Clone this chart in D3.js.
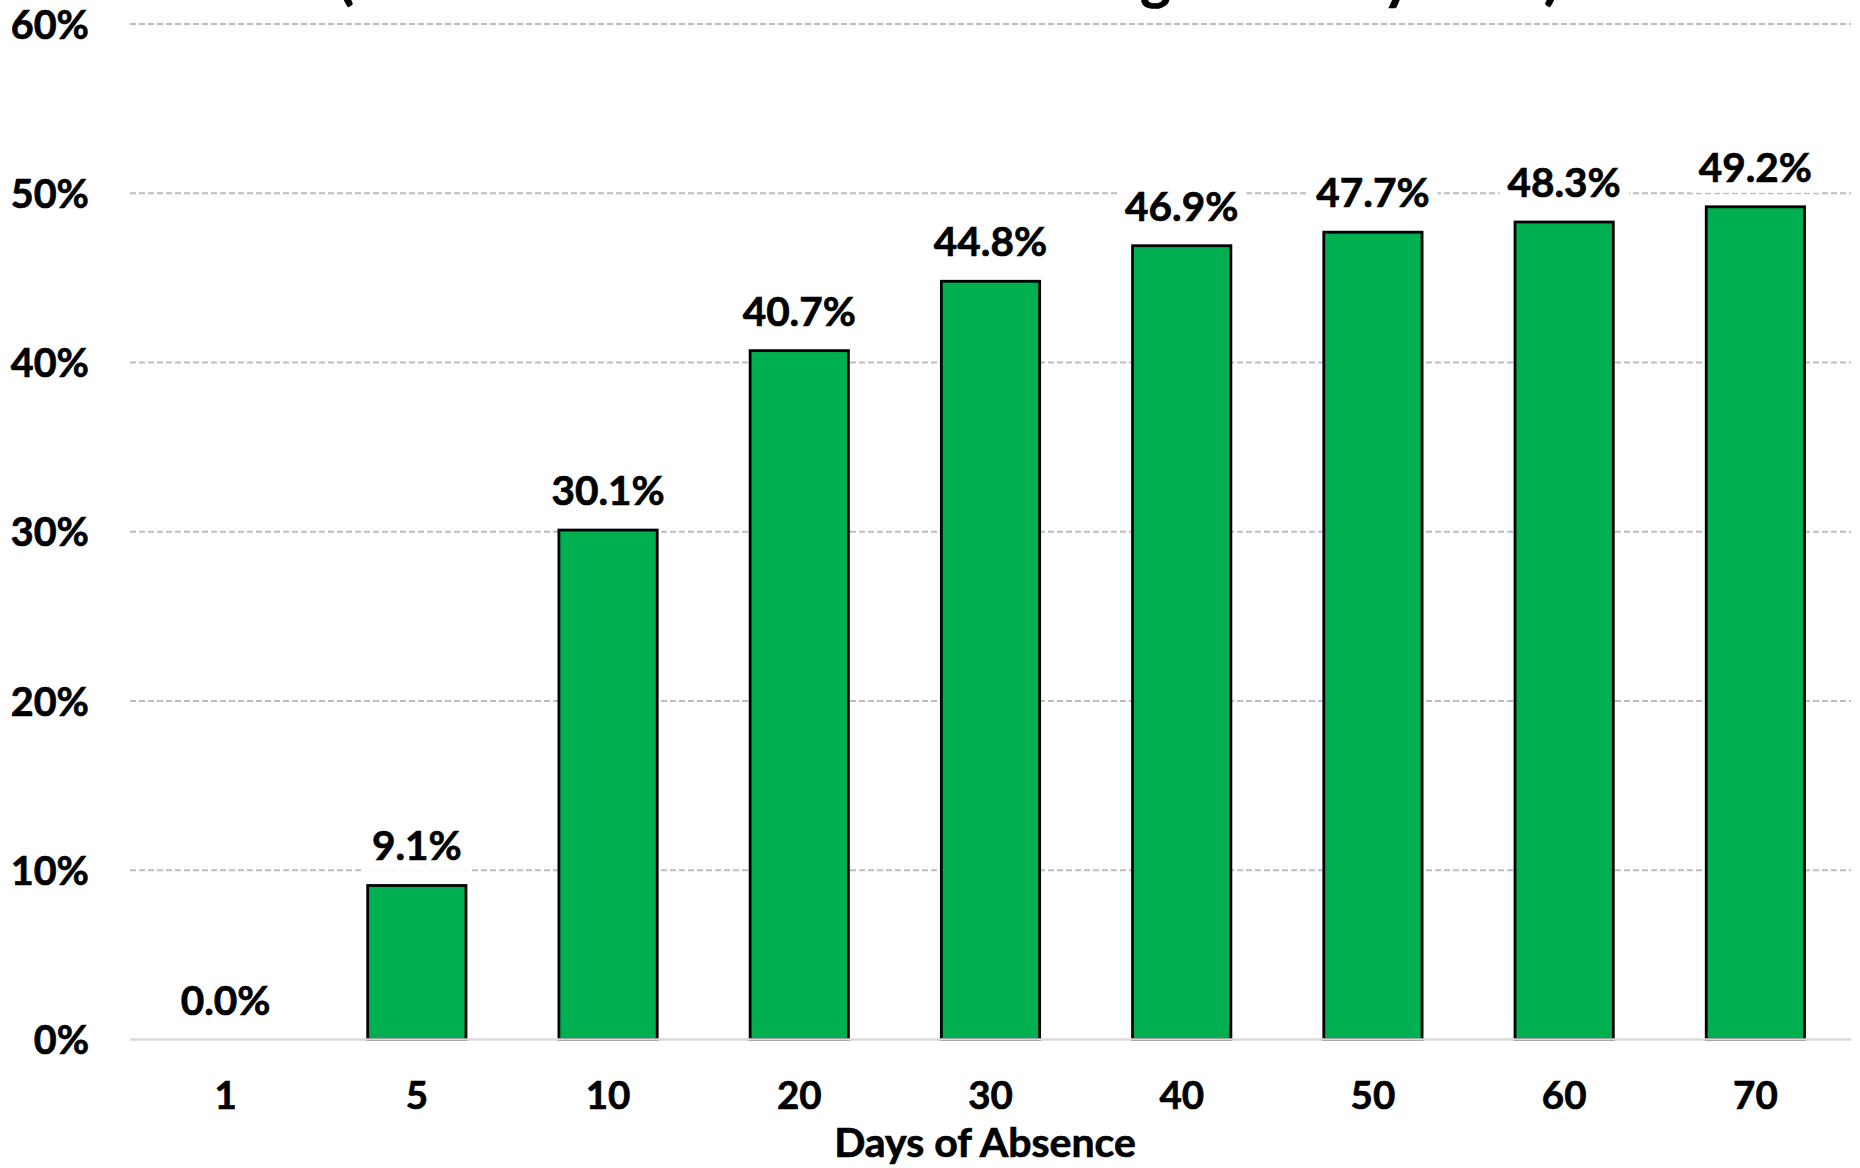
<!DOCTYPE html>
<html>
<head>
<meta charset="utf-8">
<script src="https://cdn.jsdelivr.net/npm/d3@7"></script>
<style>
  html, body { margin: 0; padding: 0; background: #fff; }
  svg { display: block; }
  text { font-family: Lato, "Open Sans", "DejaVu Sans", sans-serif; font-weight: 700; fill: #000;
         stroke: #000; stroke-width: 0.7px; paint-order: stroke; }
</style>
</head>
<body>
<svg id="chart" width="1860" height="1168"></svg>
<script>
// ---- data ----
const categories = ["1", "5", "10", "20", "30", "40", "50", "60", "70"];
const values = [0.0, 9.1, 30.1, 40.7, 44.8, 46.9, 47.7, 48.3, 49.2];
const yTicks = [0, 10, 20, 30, 40, 50, 60];
const xAxisTitle = "Days of Absence";
const chartTitle = "(Percent Loss Relative to Average Weekly Rate)";

// ---- layout ----
const plot = { left: 130, right: 1851, top: 24, bottom: 1039.5 };

const svg = d3.select("#chart");

const x = d3.scaleBand()
  .domain(categories)
  .range([plot.left, plot.right])
  .paddingInner(0.486)
  .paddingOuter(0.243);

const y = d3.scaleLinear()
  .domain([0, 60])
  .range([plot.bottom, plot.top]);

// gridlines
svg.append("g").selectAll("line")
  .data(yTicks.filter(t => t > 0))
  .join("line")
  .attr("x1", plot.left)
  .attr("x2", plot.right)
  .attr("y1", d => y(d))
  .attr("y2", d => y(d))
  .attr("stroke", "#bdbdbd")
  .attr("stroke-width", 1.8)
  .attr("stroke-dasharray", "6,3");

// y axis labels
const yg = svg.append("g")
  .attr("transform", `translate(89,0)`)
  .call(d3.axisLeft(y).tickValues(yTicks).tickFormat(d => d + "%").tickSize(0).tickPadding(0));
yg.select(".domain").remove();
yg.selectAll("text")
  .attr("font-size", 39.5)
  .attr("font-family", null)
  .attr("fill", "#000")
  .attr("dy", "0.36em");

// bars
const rows = categories.map((c, i) => ({ c, v: values[i] }));
svg.append("g").selectAll("rect")
  .data(rows)
  .join("rect")
  .attr("x", d => x(d.c))
  .attr("width", x.bandwidth())
  .attr("y", d => y(d.v))
  .attr("height", d => y(0) - y(d.v))
  .attr("fill", "#00b050")
  .attr("stroke", d => d.v > 0 ? "#000" : "none")
  .attr("stroke-width", 2.8);

// x axis line (baseline)
svg.append("line")
  .attr("x1", plot.left)
  .attr("x2", plot.right)
  .attr("y1", y(0))
  .attr("y2", y(0))
  .attr("stroke", "#d9d9d9")
  .attr("stroke-width", 2.5);

// x axis tick labels
const xg = svg.append("g")
  .attr("transform", `translate(0,${y(0)})`)
  .call(d3.axisBottom(x).tickSize(0).tickPadding(0));
xg.select(".domain").remove();
xg.selectAll("text")
  .attr("font-size", 38.5)
  .attr("font-family", null)
  .attr("fill", "#000")
  .attr("y", 69.5)
  .attr("dy", 0);

// data labels with white background
const labels = svg.append("g").selectAll("g")
  .data(rows)
  .join("g")
  .attr("transform", d => `translate(${x(d.c) + x.bandwidth() / 2},${y(d.v) - 25})`);
labels.append("text")
  .attr("text-anchor", "middle")
  .attr("font-size", 40.5)
  .text(d => d.v.toFixed(1) + "%");
labels.each(function () {
  const g = d3.select(this);
  const bb = g.select("text").node().getBBox();
  g.insert("rect", "text")
    .attr("x", bb.x - 8)
    .attr("y", bb.y - 2)
    .attr("width", bb.width + 16)
    .attr("height", bb.height + 4)
    .attr("fill", "#fff");
});

// x axis title
svg.append("text")
  .attr("x", 985)
  .attr("y", 1157)
  .attr("text-anchor", "middle")
  .attr("font-size", 41)
  .text(xAxisTitle);

// chart title (mostly above the visible area)
svg.append("text")
  .attr("x", 338)
  .attr("y", -2)
  .attr("text-anchor", "start")
  .attr("font-size", 58)
  .attr("textLength", 1222)
  .attr("lengthAdjust", "spacing")
  .text(chartTitle);
</script>
</body>
</html>
